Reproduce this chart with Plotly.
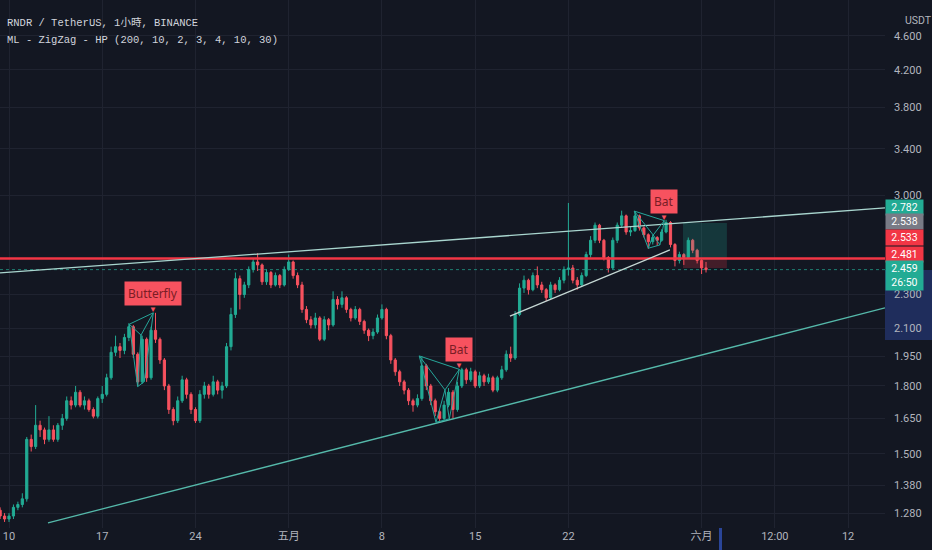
import math
import pandas as pd
import plotly.graph_objects as go

# 8-hour candles (RNDR/USDT, Apr 9 - Jun 1)
start_time = "2023-04-09 08:00"
opens = [1.29, 1.27, 1.26, 1.27, 1.30, 1.31, 1.33, 1.56, 1.53, 1.62,
         1.60, 1.56, 1.60, 1.56, 1.62, 1.65, 1.73, 1.71, 1.77, 1.71,
         1.73, 1.69, 1.66, 1.74, 1.76, 1.84, 1.97, 2.00, 1.98, 2.05,
         2.11, 1.96, 1.82, 2.04, 1.84, 2.09, 2.04, 1.93, 1.80, 1.69,
         1.64, 1.73, 1.83, 1.76, 1.69, 1.64, 1.76, 1.80, 1.76, 1.82,
         1.78, 1.80, 2.00, 2.18, 2.40, 2.30, 2.36, 2.46, 2.51, 2.49,
         2.38, 2.44, 2.36, 2.42, 2.36, 2.46, 2.51, 2.42, 2.36, 2.21,
         2.15, 2.12, 2.16, 2.04, 2.15, 2.12, 2.27, 2.24, 2.28, 2.21,
         2.16, 2.21, 2.14, 2.09, 2.06, 2.08, 2.16, 2.21, 2.06, 1.93,
         1.87, 1.82, 1.78, 1.73, 1.71, 1.74, 1.90, 1.80, 1.73, 1.68,
         1.65, 1.71, 1.77, 1.69, 1.80, 1.88, 1.83, 1.87, 1.80, 1.85,
         1.82, 1.84, 1.78, 1.84, 1.88, 1.96, 1.94, 2.18, 2.34, 2.39,
         2.33, 2.42, 2.36, 2.33, 2.28, 2.36, 2.33, 2.39, 2.46, 2.47,
         2.39, 2.36, 2.42, 2.56, 2.66, 2.77, 2.66, 2.54, 2.47, 2.66,
         2.77, 2.84, 2.72, 2.73, 2.84, 2.75, 2.70, 2.65, 2.68, 2.66,
         2.72, 2.79, 2.63, 2.52, 2.56, 2.54, 2.66, 2.59, 2.52, 2.47]
closes = [1.27, 1.26, 1.27, 1.30, 1.31, 1.33, 1.56, 1.53, 1.62, 1.60,
          1.56, 1.60, 1.56, 1.62, 1.65, 1.73, 1.71, 1.77, 1.71, 1.73,
          1.69, 1.66, 1.74, 1.76, 1.84, 1.97, 2.00, 1.98, 2.05, 2.11,
          1.96, 1.82, 2.04, 1.84, 2.09, 2.04, 1.93, 1.80, 1.69, 1.64,
          1.73, 1.83, 1.76, 1.69, 1.64, 1.76, 1.80, 1.76, 1.82, 1.78,
          1.80, 2.00, 2.18, 2.40, 2.30, 2.36, 2.46, 2.51, 2.49, 2.38,
          2.44, 2.36, 2.42, 2.36, 2.46, 2.51, 2.42, 2.36, 2.21, 2.15,
          2.12, 2.16, 2.04, 2.15, 2.12, 2.27, 2.24, 2.28, 2.21, 2.16,
          2.21, 2.14, 2.09, 2.06, 2.08, 2.16, 2.21, 2.06, 1.93, 1.87,
          1.82, 1.78, 1.73, 1.71, 1.74, 1.90, 1.80, 1.73, 1.68, 1.65,
          1.71, 1.77, 1.69, 1.80, 1.88, 1.83, 1.87, 1.80, 1.85, 1.82,
          1.84, 1.78, 1.84, 1.88, 1.96, 1.94, 2.18, 2.34, 2.39, 2.33,
          2.42, 2.36, 2.33, 2.28, 2.36, 2.33, 2.39, 2.46, 2.47, 2.39,
          2.36, 2.42, 2.56, 2.66, 2.77, 2.66, 2.54, 2.47, 2.66, 2.77,
          2.84, 2.72, 2.73, 2.84, 2.75, 2.70, 2.65, 2.68, 2.66, 2.72,
          2.79, 2.63, 2.52, 2.56, 2.54, 2.66, 2.59, 2.52, 2.47, 2.459]
highs = [1.30, 1.28, 1.28, 1.31, 1.32, 1.35, 1.57, 1.58, 1.71, 1.64,
         1.61, 1.66, 1.62, 1.63, 1.67, 1.75, 1.75, 1.80, 1.78, 1.75,
         1.74, 1.70, 1.75, 1.80, 1.86, 2.00, 2.06, 2.02, 2.07, 2.13,
         2.12, 1.97, 2.06, 2.05, 2.11, 2.19, 2.05, 1.94, 1.81, 1.70,
         1.75, 1.85, 1.84, 1.77, 1.70, 1.78, 1.82, 1.81, 1.85, 1.83,
         1.82, 2.02, 2.22, 2.44, 2.42, 2.38, 2.48, 2.53, 2.57, 2.50,
         2.46, 2.45, 2.44, 2.43, 2.48, 2.56, 2.52, 2.44, 2.38, 2.23,
         2.17, 2.19, 2.17, 2.17, 2.16, 2.32, 2.29, 2.32, 2.29, 2.22,
         2.23, 2.22, 2.15, 2.10, 2.10, 2.18, 2.24, 2.22, 2.07, 1.94,
         1.88, 1.83, 1.79, 1.74, 1.76, 1.95, 1.91, 1.81, 1.74, 1.69,
         1.73, 1.79, 1.78, 1.82, 1.89, 1.89, 1.89, 1.88, 1.87, 1.86,
         1.86, 1.85, 1.85, 1.90, 1.98, 2.00, 2.20, 2.37, 2.42, 2.40,
         2.44, 2.48, 2.38, 2.34, 2.38, 2.37, 2.41, 2.48, 2.94, 2.49,
         2.41, 2.44, 2.58, 2.69, 2.79, 2.78, 2.67, 2.55, 2.68, 2.79,
         2.88, 2.85, 2.76, 2.87, 2.85, 2.76, 2.71, 2.70, 2.69, 2.74,
         2.81, 2.80, 2.64, 2.58, 2.57, 2.68, 2.67, 2.60, 2.53, 2.51]
lows = [1.26, 1.25, 1.25, 1.26, 1.29, 1.30, 1.32, 1.51, 1.52, 1.57,
        1.54, 1.55, 1.55, 1.55, 1.60, 1.64, 1.69, 1.70, 1.70, 1.69,
        1.68, 1.65, 1.65, 1.72, 1.75, 1.83, 1.95, 1.94, 1.96, 2.03,
        1.94, 1.80, 1.81, 1.82, 1.83, 2.02, 1.91, 1.78, 1.67, 1.62,
        1.63, 1.72, 1.74, 1.67, 1.63, 1.63, 1.74, 1.74, 1.75, 1.76,
        1.74, 1.79, 1.98, 2.16, 2.21, 2.28, 2.34, 2.44, 2.45, 2.36,
        2.36, 2.34, 2.35, 2.34, 2.35, 2.45, 2.40, 2.34, 2.19, 2.13,
        2.10, 2.10, 2.03, 2.03, 2.09, 2.11, 2.21, 2.22, 2.19, 2.14,
        2.15, 2.12, 2.07, 2.03, 2.04, 2.07, 2.15, 2.04, 1.91, 1.85,
        1.80, 1.76, 1.71, 1.68, 1.70, 1.73, 1.78, 1.71, 1.66, 1.63,
        1.64, 1.70, 1.65, 1.68, 1.79, 1.81, 1.82, 1.79, 1.79, 1.80,
        1.81, 1.77, 1.77, 1.83, 1.87, 1.92, 1.93, 2.17, 2.31, 2.30,
        2.32, 2.34, 2.31, 2.26, 2.27, 2.31, 2.32, 2.37, 2.42, 2.37,
        2.33, 2.35, 2.41, 2.54, 2.64, 2.64, 2.52, 2.44, 2.46, 2.64,
        2.75, 2.70, 2.69, 2.72, 2.73, 2.68, 2.60, 2.63, 2.62, 2.65,
        2.71, 2.61, 2.48, 2.50, 2.49, 2.53, 2.57, 2.50, 2.43, 2.44]

# trend lines (time, price)
upper_line_t = ["2023-04-09 07:47", "2023-06-14 18:30"]
upper_line_p = [2.437, 2.901]
lower_line_t = ["2023-04-12 22:17", "2023-06-14 18:30"]
lower_line_p = [1.247, 2.219]
mid_line_t = ["2023-05-17 14:40", "2023-05-29 14:55"]
mid_line_p = [2.171, 2.592]
resistance = 2.533
last_price = 2.459

# harmonic patterns: X, A, B, C, D
pattern_names = ["Butterfly", "Bat", "Bat"]
pattern_times = [
    ["2023-04-19 00:45", "2023-04-19 15:50", "2023-04-19 21:50", "2023-04-20 03:45", "2023-04-20 20:00"],
    ["2023-05-10 19:15", "2023-05-12 01:25", "2023-05-12 17:35", "2023-05-13 01:20", "2023-05-13 19:25"],
    ["2023-05-26 22:35", "2023-05-28 00:00", "2023-05-28 08:55", "2023-05-28 20:55", "2023-05-29 04:45"],
]
pattern_prices = [
    [2.124, 1.797, 2.063, 1.821, 2.190],
    [1.951, 1.633, 1.781, 1.648, 1.882],
    [2.877, 2.604, 2.698, 2.627, 2.804],
]

# position box (time, prices)
box_t = ["2023-05-30 14:26", "2023-06-02 21:36"]
box_profit = [2.523, 2.787]
box_loss = [2.470, 2.523]

# price axis
y_ticks = [1.28, 1.38, 1.5, 1.65, 1.8, 1.95, 2.1, 2.3, 3.0, 3.4, 3.8, 4.2, 4.6]
x_ticks = ["2023-04-10", "2023-04-17", "2023-04-24", "2023-05-01", "2023-05-08",
           "2023-05-15", "2023-05-22", "2023-06-01", "2023-06-06 12:00", "2023-06-12"]
x_labels = ["10", "17", "24", "五月", "8", "15", "22", "六月", "12:00", "12"]
axis_tags = ["2.782", "2.538", "2.533", "2.481", "2.459<br>26:50"]
axis_tag_colors = ["#22ab94", "#787b86", "#f23645", "#f23645", "#22ab94"]

BG = "#131722"
UP = "#22ab94"
DN = "#f7525f"
GRID = "#1f2330"
TXT = "#b2b5be"
W, H = 932, 550
PW, PH = 885, 528  # plot area in px


def px(x):
    return x / PW


def py(y):
    return 1 - y / PH


times = pd.date_range(start_time, periods=len(closes), freq="8h")

fig = go.Figure()

fig.add_trace(go.Candlestick(
    x=times, open=opens, high=highs, low=lows, close=closes,
    increasing=dict(line=dict(color=UP, width=1), fillcolor=UP),
    decreasing=dict(line=dict(color=DN, width=1), fillcolor=DN),
    whiskerwidth=0, hoverinfo="skip", showlegend=False,
))

# position tool
for prices, col in [(box_profit, "rgba(34,171,148,0.22)"), (box_loss, "rgba(242,54,69,0.22)")]:
    fig.add_trace(go.Scatter(
        x=[box_t[0], box_t[1], box_t[1], box_t[0], box_t[0]],
        y=[prices[0], prices[0], prices[1], prices[1], prices[0]],
        fill="toself", fillcolor=col, mode="none",
        hoverinfo="skip", showlegend=False,
    ))

x_all = ["2023-04-09 07:47", "2023-06-14 18:30"]
fig.add_trace(go.Scatter(x=x_all, y=[resistance, resistance], mode="lines",
                         line=dict(color="#f23645", width=2.5),
                         hoverinfo="skip", showlegend=False))
fig.add_trace(go.Scatter(x=x_all, y=[last_price, last_price], mode="lines",
                         line=dict(color="rgba(34,171,148,0.7)", width=1, dash="dot"),
                         hoverinfo="skip", showlegend=False))

for t, p, col in [(upper_line_t, upper_line_p, "#a9d6cf"),
                  (lower_line_t, lower_line_p, "#55b9aa"),
                  (mid_line_t, mid_line_p, "#c6d8d4")]:
    fig.add_trace(go.Scatter(x=t, y=p, mode="lines", line=dict(color=col, width=1.3),
                             hoverinfo="skip", showlegend=False))

# pattern legs: X-A-B-C-D plus X-B, B-D, X-D, A-C
for name, ts, ps in zip(pattern_names, pattern_times, pattern_prices):
    segs = [[0, 1, 2, 3, 4], [0, 2], [2, 4], [0, 4], [1, 3]]
    lx, ly = [], []
    for s in segs:
        lx += [ts[k] for k in s] + [None]
        ly += [ps[k] for k in s] + [None]
    fig.add_trace(go.Scatter(x=lx, y=ly, mode="lines", line=dict(color="#26a69a", width=1),
                             connectgaps=False, hoverinfo="skip", showlegend=False))
    fig.add_annotation(x=ts[4], y=math.log10(ps[4]), text="▼", showarrow=False,
                       yanchor="bottom", yshift=-3, font=dict(size=8, color="#f7525f"))
    fig.add_annotation(x=ts[4], y=math.log10(ps[4]), text=name, showarrow=False,
                       yanchor="bottom", yshift=7, bgcolor="#f7525f", borderpad=3,
                       font=dict(family="Noto Sans", size=12, color="#7a1d25"))

# price axis band and time marker
fig.add_shape(type="rect", xref="paper", yref="paper", x0=1, x1=W / PW,
              y0=py(340), y1=py(270), fillcolor="#1f2d5c", line_width=0, layer="below")
fig.add_shape(type="rect", xref="paper", yref="paper", x0=px(719), x1=px(722),
              y0=py(550), y1=py(528), fillcolor="#2a4598", line_width=0)

# labels on the price axis
tag_centers = [207.7, 222, 237, 254.5, 275]
for txt, col, yc in zip(axis_tags, axis_tag_colors, tag_centers):
    fig.add_annotation(xref="paper", yref="paper", x=1, y=py(yc), xanchor="left",
                       text=txt, showarrow=False, bgcolor=col, borderpad=1,
                       width=35, align="center",
                       font=dict(family="Roboto", size=10.5, color="#ffffff"))

fig.add_annotation(xref="paper", yref="paper", x=px(903), y=py(12), text="USDT",
                   showarrow=False, xanchor="left", font=dict(family="Roboto", size=10.5, color=TXT))
fig.add_annotation(xref="paper", yref="paper", x=px(5), y=py(15), text="RNDR / TetherUS, 1小時, BINANCE",
                   showarrow=False, xanchor="left",
                   font=dict(family="Liberation Mono, Noto Sans CJK TC", size=10.5, color="#d1d4dc"))
fig.add_annotation(xref="paper", yref="paper", x=px(5), y=py(32), text="ML - ZigZag - HP (200, 10, 2, 3, 4, 10, 30)",
                   showarrow=False, xanchor="left",
                   font=dict(family="Liberation Mono", size=10.5, color="#d1d4dc"))

fig.update_layout(
    width=W, height=H,
    margin=dict(l=0, r=W - PW, t=0, b=H - PH),
    paper_bgcolor=BG, plot_bgcolor=BG,
    showlegend=False, hovermode=False,
    xaxis=dict(
        range=x_all, rangeslider=dict(visible=False),
        tickvals=x_ticks, ticktext=x_labels, showgrid=True, gridcolor=GRID,
        tickfont=dict(family="Liberation Sans Narrow, Roboto, Noto Sans CJK SC", size=11, color=TXT),
        zeroline=False, showline=False, ticks="",
    ),
    yaxis=dict(
        type="log", side="right",
        range=[math.log10(1.230), math.log10(5.066)],
        tickvals=y_ticks, ticktext=["%.3f" % v for v in y_ticks],
        showgrid=True, gridcolor=GRID, zeroline=False, showline=False,
        ticks="", ticklabelstandoff=8,
        tickfont=dict(family="Roboto", size=11, color=TXT),
    ),
)

fig.write_html("out.html", config={"displayModeBar": False},
               post_script="document.body.style.margin='0';document.body.style.background='#131722';")
